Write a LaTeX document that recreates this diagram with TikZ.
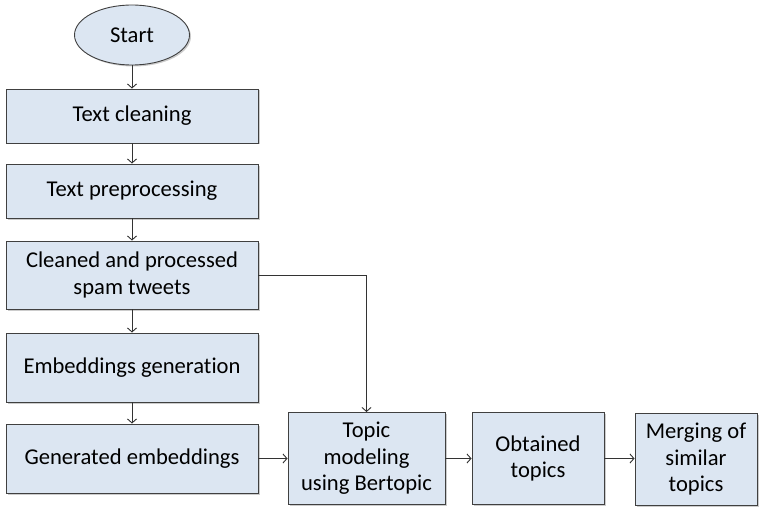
\documentclass[tikz,border=0pt]{standalone}
\usepackage{fontspec}
\setmainfont{Carlito}[Ligatures={NoCommon,NoContextual,NoRare}]
\usetikzlibrary{arrows.meta,shapes.geometric,shadows}

\definecolor{boxblue}{HTML}{DCE6F2}
\tikzset{
  stepbox/.style={draw=black!75, fill=boxblue, line width=0.9pt, align=center,
    inner sep=0pt, font=\fontsize{22.6}{26.5}\selectfont,
    drop shadow={shadow xshift=1.5pt, shadow yshift=-1.5pt, fill=black!40, opacity=0.5}},
  flow/.style={draw=black!80, line width=0.9pt, -{Straight Barb[length=4pt,width=9pt]}}
}

\begin{document}
\begin{tikzpicture}[x=1pt, y=-1pt]
\useasboundingbox (0,0) rectangle (760,508);
\node (start) [stepbox, ellipse, minimum width=115pt, minimum height=60pt] at (132,35) {Start};
\node (clean) [stepbox, minimum width=252pt, minimum height=54pt] at (132,116) {Text cleaning};
\node (prep) [stepbox, minimum width=252pt, minimum height=54pt] at (132,191) {Text preprocessing};
\node (spam) [stepbox, minimum width=252pt, minimum height=68pt] at (132,275) {Cleaned and processed\\spam tweets};
\node (embgen) [stepbox, minimum width=252pt, minimum height=69pt] at (132,367.5) {Embeddings generation};
\node (genemb) [stepbox, minimum width=252pt, minimum height=69pt] at (132,458.5) {Generated embeddings};
\node (topic) [stepbox, minimum width=157pt, minimum height=92pt] at (366.5,458.5) {Topic\\modeling\\using Bertopic};
\node (obtained) [stepbox, minimum width=132pt, minimum height=92pt] at (538,458.5) {Obtained\\topics};
\node (merging) [stepbox, minimum width=122pt, minimum height=92pt] at (696,459.5) {Merging of\\similar\\topics};

\draw[flow] (start) -- (clean);
\draw[flow] (clean) -- (prep);
\draw[flow] (prep) -- (spam);
\draw[flow] (spam) -- (embgen);
\draw[flow] (embgen) -- (genemb);
\draw[flow] (genemb) -- (topic);
\draw[flow] (spam.east) -| (topic.north);
\draw[flow] (topic) -- (obtained);
\draw[flow] (obtained.east) -- (obtained.east -| merging.west);
\end{tikzpicture}
\end{document}
